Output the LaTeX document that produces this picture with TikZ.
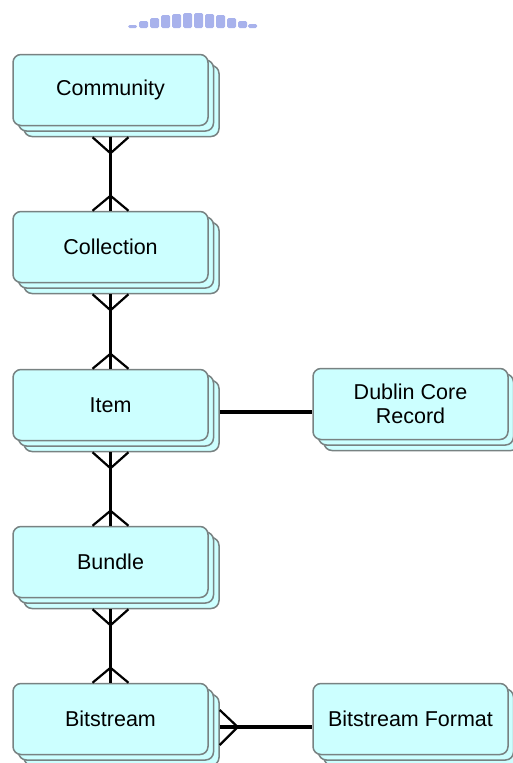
\documentclass[tikz,border=0pt]{standalone}
\usepackage{fontspec}
\setmainfont{Liberation Sans}
\usetikzlibrary{shadows}
\definecolor{boxfill}{RGB}{204,255,255}
\definecolor{boxline}{RGB}{120,130,130}
\definecolor{wm}{RGB}{168,178,236}
\tikzset{
  entity/.style={rectangle, rounded corners=8pt, minimum width=195pt, minimum height=71pt,
    inner sep=0pt, fill=boxfill, draw=boxline, line width=1.5pt, align=center,
    font=\fontsize{21.5}{24}\selectfont,
    double copy shadow={shadow xshift=5.5pt, shadow yshift=-5.5pt, fill=boxfill, draw=boxline, line width=1.5pt}},
  rel/.style={line width=3.5pt, black},
  foot/.style={line width=2.2pt, black, line join=miter}
}
\begin{document}
\begin{tikzpicture}[x=1pt,y=-1pt]
\useasboundingbox (0,0) rectangle (512,763);
% faint watermark at top
\foreach \xx/\tt in {128/25,139/21,150/18,161/15,172/14,183/13,194/13,205/14,216/15,227/18,238/21,248/24}{
  \fill[wm, rounded corners=1.5pt] (\xx,\tt) rectangle ++(9,28-\tt);
}
\node[entity] (comm) at (110.5,90) {Community};
\node[entity] (coll) at (110.5,247) {Collection};
\node[entity] (item) at (110.5,405) {Item};
\node[entity] (bund) at (110.5,562) {Bundle};
\node[entity] (bits) at (110.5,719) {Bitstream};
\node[entity] (dub) at (410.5,404) {Dublin Core\\Record};
\node[entity] (fmt) at (410.5,719) {Bitstream Format};
% vertical relations (many-to-many)
\foreach \a/\b in {comm/coll, coll/item, item/bund, bund/bits}{
  \draw[rel] ([yshift=-11pt]\a.south) -- (\b.north);
  \draw[foot] ([shift={(-18pt,-11pt)}]\a.south) -- ([yshift=-27pt]\a.south) -- ([shift={(18pt,-11pt)}]\a.south);
  \draw[foot] ([shift={(-18pt,0pt)}]\b.north) -- ([yshift=15pt]\b.north) -- ([shift={(18pt,0pt)}]\b.north);
}
% horizontal relations
\draw[rel] ([shift={(11pt,-7pt)}]item.east) -- ([yshift=-8pt]dub.west);
\draw[rel] ([shift={(11pt,-8pt)}]bits.east) -- ([yshift=-8pt]fmt.west);
\draw[foot] ([shift={(11pt,9pt)}]bits.east) -- ([shift={(29pt,-8pt)}]bits.east) -- ([shift={(11pt,-26pt)}]bits.east);
\end{tikzpicture}
\end{document}
